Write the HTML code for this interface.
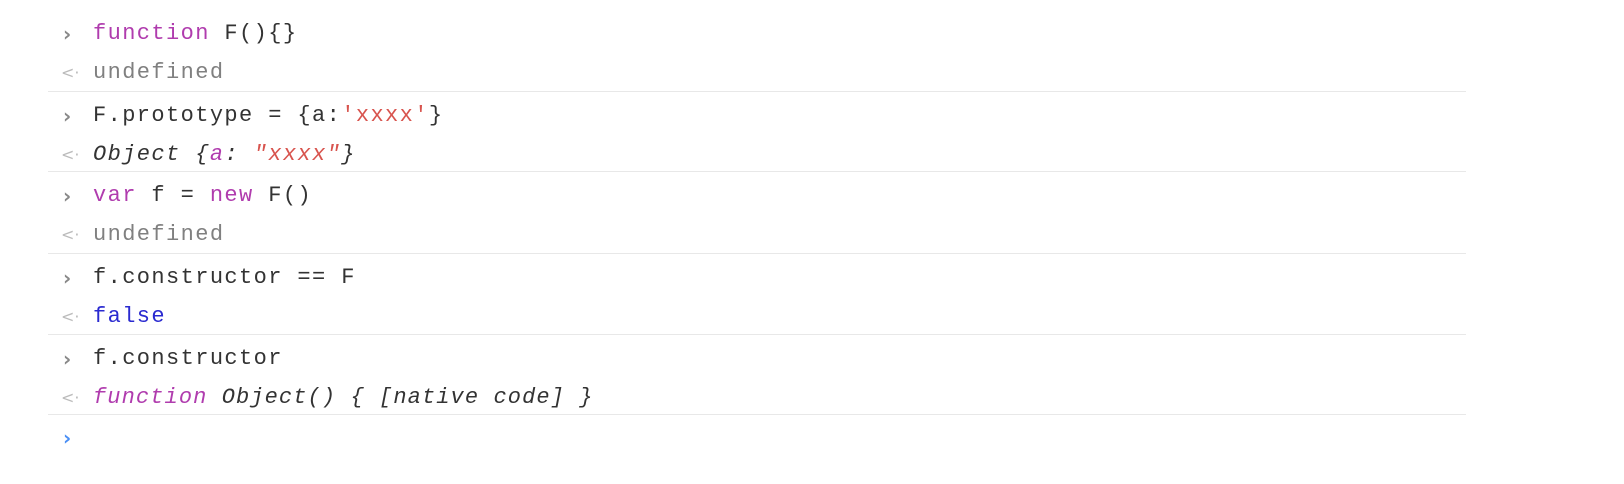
<!DOCTYPE html>
<html><head><meta charset="utf-8"><style>
html,body{margin:0;padding:0;background:#fff;width:1624px;height:484px;overflow:hidden}
.l{position:absolute;left:93px;height:38px;line-height:42px;font-family:"Liberation Mono",monospace;font-size:22px;color:#333;white-space:pre;letter-spacing:1.4px}
.p{position:absolute;left:63px;height:38px;line-height:42px;font-family:"DejaVu Sans",sans-serif;font-size:20px;color:#888;font-weight:bold}
.o{font-size:16px;color:#bbb;left:61px;font-weight:normal}
.s{position:absolute;left:48px;width:1418px;height:1px;background:#e8e8e8}
.k{color:#b03cae}.u{color:#808080}.r{color:#d8544e}.b{color:#2a2ad0}.i{font-style:italic}
</style></head><body>
<div class="p" style="top:13px">›</div>
<div class="l" style="top:13px"><span class="k">function</span> F(){}</div>
<div class="p o" style="top:52px">&lt;·</div>
<div class="l u" style="top:52px">undefined</div>
<div class="s" style="top:91px"></div>

<div class="p" style="top:95px">›</div>
<div class="l" style="top:95px">F.prototype = {a:<span class="r">'xxxx'</span>}</div>
<div class="p o" style="top:134px">&lt;·</div>
<div class="l i" style="top:134px">Object {<span class="k">a</span>: <span class="r">"xxxx"</span>}</div>
<div class="s" style="top:171px"></div>

<div class="p" style="top:175px">›</div>
<div class="l" style="top:175px"><span class="k">var</span> f = <span class="k">new</span> F()</div>
<div class="p o" style="top:214px">&lt;·</div>
<div class="l u" style="top:214px">undefined</div>
<div class="s" style="top:253px"></div>

<div class="p" style="top:257px">›</div>
<div class="l" style="top:257px">f.constructor == F</div>
<div class="p o" style="top:296px">&lt;·</div>
<div class="l b" style="top:296px">false</div>
<div class="s" style="top:334px"></div>

<div class="p" style="top:338px">›</div>
<div class="l" style="top:338px">f.constructor</div>
<div class="p o" style="top:377px">&lt;·</div>
<div class="l i" style="top:377px;letter-spacing:1.1px"><span class="k">function</span> Object() { [native code] }</div>
<div class="s" style="top:414px"></div>

<div class="p" style="top:417px;color:#4a8ff5">›</div>
<div class="l" style="top:417px;width:1300px"></div>
</body></html>
